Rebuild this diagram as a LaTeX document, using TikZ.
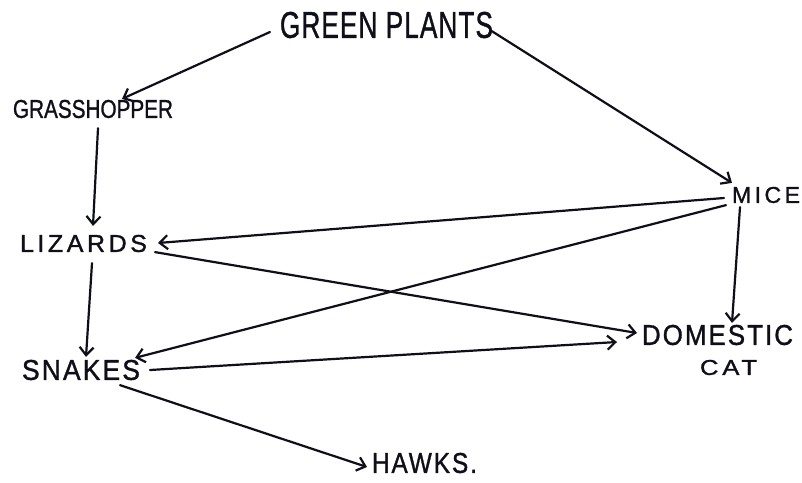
\documentclass[tikz,border=0pt]{standalone}
\usepackage{fontspec}
\setmainfont{Liberation Sans}[FakeBold=1.2]
\usetikzlibrary{arrows.meta,calc}
\definecolor{ink}{RGB}{15,15,25}
% label box stretched to a given width and cap height, with optional tracking
\newcommand{\handlabel}[4][0]{\resizebox{#2pt}{#3pt}{\addfontfeature{LetterSpace=#1}#4}}
\tikzset{
  organism/.style={inner sep=0pt, outer sep=0pt, text=ink},
  feeds/.style={draw=ink, line width=2.2pt, line cap=round,
    -{Straight Barb[length=8pt,width=14pt,line width=2.2pt]}}
}
\begin{document}
\begin{tikzpicture}[x=1pt,y=-1pt]
  \useasboundingbox[fill=white] (0,0) rectangle (802,482);

  % organisms
  \node[organism] (gp)    at (386.5,25)   {\handlabel[4]{213}{26}{GREEN PLANTS}};
  \node[organism] (gh)    at (93,109)     {\handlabel{160}{18}{GRASSHOPPER}};
  \node[organism] (mice)  at (766,195)    {\handlabel[15]{68}{16}{MICE}};
  \node[organism] (lz)    at (83.5,243.5) {\handlabel[14]{127}{17}{LIZARDS}};
  \node[organism] (sn)    at (81,370)     {\handlabel[8]{118}{20}{SNAKES}};
  \node[organism] (dom)   at (717.5,335)  {\handlabel[8]{151}{20}{DOMESTIC}};
  \node[organism] (cat)   at (728.5,367.5){\handlabel[15]{57}{15}{CAT}};
  \node[organism] (hawks) at (424.5,463)  {\handlabel[8]{105}{20}{HAWKS.}};

  % who is eaten by whom
  \draw[feeds] ($(gp.west)+(-10,7)$)        -- ($(gh.north)+(29,-1)$);
  \draw[feeds] ($(gp.east)+(-3,5)$)         -- ($(mice.north west)+(0,-4)$);
  \draw[feeds] ($(gh.south)+(5,10)$)        -- ($(lz.north)+(9.5,-9)$);
  \draw[feeds] ($(lz.south)+(8.5,11)$)      -- ($(sn.north)+(5,-3)$);
  \draw[feeds] ($(mice.west)+(-8,3)$)       -- ($(lz.east)+(11,-0.5)$);
  \draw[feeds] ($(mice.south west)+(-6,2)$) -- ($(sn.north east)+(-5,-2)$);
  \draw[feeds] ($(mice.south)+(-26,4)$)     -- ($(dom.north)+(14.5,-2)$);
  \draw[feeds] ($(lz.south east)+(8,0)$)    -- ($(dom.west)+(-5,-2)$);
  \draw[feeds] ($(sn.east)+(10,0)$)         -- ($(dom.west)+(-25,7)$);
  \draw[feeds] ($(sn.south)+(39,5)$)        -- ($(hawks.west)+(-5,4)$);
\end{tikzpicture}
\end{document}
